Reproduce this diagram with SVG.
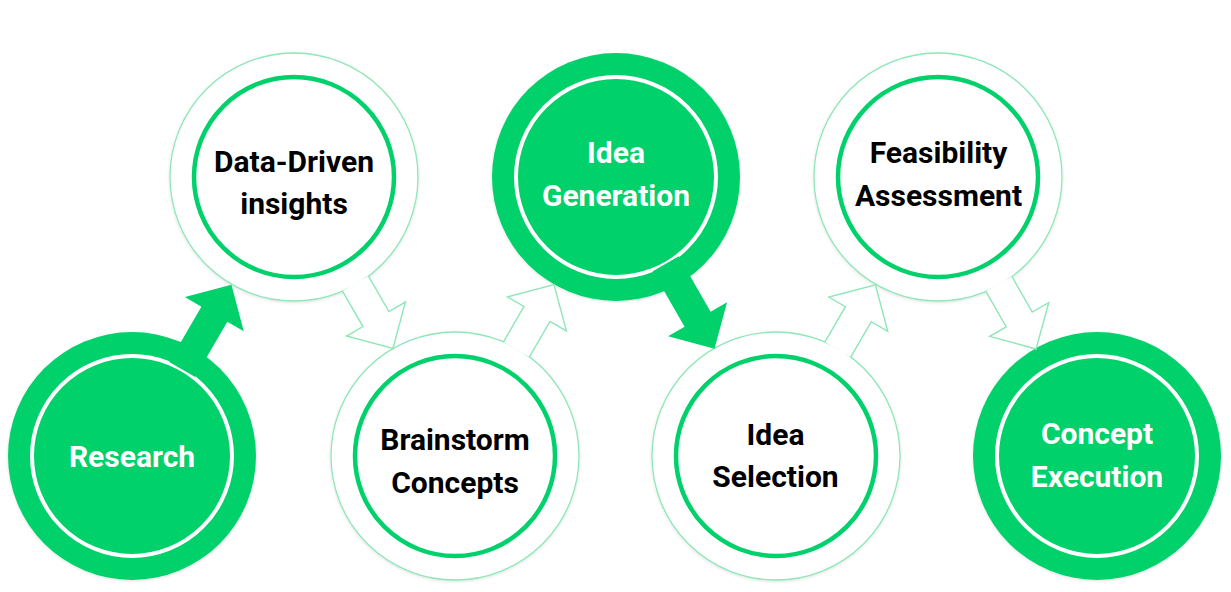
<svg xmlns="http://www.w3.org/2000/svg" xmlns:xlink="http://www.w3.org/1999/xlink" width="1231" height="592" viewBox="0 0 1231 592">
<style>
.outer-g{fill:#00D16B;}
.outer-w{fill:#FFFFFF;stroke:#8FE6B8;stroke-width:1.3;}
.ring-w{fill:none;stroke:#FFFFFF;stroke-width:4;}
.ring-g{fill:none;stroke:#00D16B;stroke-width:4.5;}
.lbl{font-family:Roboto,"Liberation Sans",Arial,sans-serif;font-weight:700;font-size:30px;text-anchor:middle;}
.lbl-w{fill:#FFFFFF;}
.lbl-k{fill:#000000;}
.arr-g{fill:#00D16B;}
.arr-w{fill:#FFFFFF;stroke:#8FE6B8;stroke-width:1.4;stroke-linejoin:miter;}
</style>
<defs>
<filter id="sh" x="-10%" y="-10%" width="120%" height="120%">
<feDropShadow dx="0" dy="1" stdDeviation="1.5" flood-color="#000000" flood-opacity="0.12"/>
</filter>
<path id="arrowG" d="M100,-15 L164,-15 L164,-34 L198,0 L164,34 L164,15 L100,15 Z"/>
<path id="arrowW" d="M123,-15 L164,-15 L164,-34 L198,0 L164,34 L164,15 L123,15"/>
</defs>
<rect width="1231" height="592" fill="#FFFFFF"/>
<g id="node-research">
<circle class="outer-g" cx="132" cy="456" r="124" filter="url(#sh)"/>
<circle class="ring-w" cx="132" cy="456" r="100"/>
<text class="lbl lbl-w" x="132" y="467">Research</text>
</g>
<g id="node-data-driven">
<circle class="outer-w" cx="294" cy="177" r="124" filter="url(#sh)"/>
<circle class="ring-g" cx="294" cy="177" r="100"/>
<text class="lbl lbl-k" x="294" y="172">Data-Driven</text>
<text class="lbl lbl-k" x="294" y="214">insights</text>
</g>
<g id="node-brainstorm">
<circle class="outer-w" cx="455" cy="456" r="124" filter="url(#sh)"/>
<circle class="ring-g" cx="455" cy="456" r="100"/>
<text class="lbl lbl-k" x="455" y="450">Brainstorm</text>
<text class="lbl lbl-k" x="455" y="493">Concepts</text>
</g>
<g id="node-idea-generation">
<circle class="outer-g" cx="616" cy="177" r="124" filter="url(#sh)"/>
<circle class="ring-w" cx="616" cy="177" r="100"/>
<text class="lbl lbl-w" x="616" y="163">Idea</text>
<text class="lbl lbl-w" x="616" y="205.5">Generation</text>
</g>
<g id="node-idea-selection">
<circle class="outer-w" cx="776" cy="456" r="124" filter="url(#sh)"/>
<circle class="ring-g" cx="776" cy="456" r="100"/>
<text class="lbl lbl-k" x="775.5" y="445">Idea</text>
<text class="lbl lbl-k" x="775.5" y="487">Selection</text>
</g>
<g id="node-feasibility">
<circle class="outer-w" cx="938" cy="177" r="124" filter="url(#sh)"/>
<circle class="ring-g" cx="938" cy="177" r="100"/>
<text class="lbl lbl-k" x="938.5" y="163">Feasibility</text>
<text class="lbl lbl-k" x="938.5" y="205.5">Assessment</text>
</g>
<g id="node-concept-execution">
<circle class="outer-g" cx="1097" cy="456" r="124" filter="url(#sh)"/>
<circle class="ring-w" cx="1097" cy="456" r="100"/>
<text class="lbl lbl-w" x="1097" y="444">Concept</text>
<text class="lbl lbl-w" x="1097" y="487">Execution</text>
</g>
<g id="connectors">
<use href="#arrowG" class="arr-g" transform="translate(132,456) rotate(-59.86)"/>
<use href="#arrowW" class="arr-w" transform="translate(294,177) rotate(60.01)"/>
<use href="#arrowW" class="arr-w" transform="translate(455,456) rotate(-60.01)"/>
<use href="#arrowG" class="arr-g" transform="translate(616,177) rotate(60.17)"/>
<use href="#arrowW" class="arr-w" transform="translate(776,456) rotate(-59.86)"/>
<use href="#arrowW" class="arr-w" transform="translate(938,177) rotate(60.32)"/>
</g>
</svg>
